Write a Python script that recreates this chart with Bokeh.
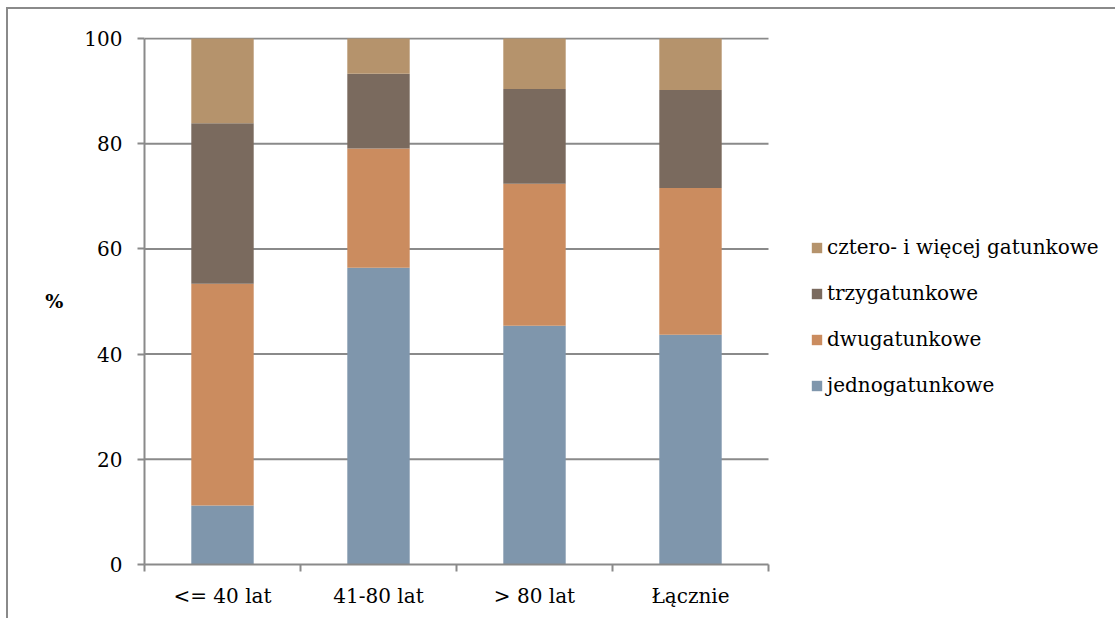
import numpy as np
from bokeh.plotting import figure
from bokeh.models import (FixedTicker, Legend, LegendItem, Range1d)
from bokeh.embed import file_html
from bokeh.resources import INLINE

# Age groups of stands and share (%) of stands by number of tree species
groups = ["<= 40 lat", "41-80 lat", "> 80 lat", "Łącznie"]
jednogatunkowe = [11.2, 56.4, 45.4, 43.7]
dwugatunkowe = [42.2, 22.7, 27.0, 27.9]
trzygatunkowe = [30.5, 14.2, 18.0, 18.6]
cztero_i_wiecej = [16.1, 6.7, 9.6, 9.8]

series_names = ["jednogatunkowe", "dwugatunkowe", "trzygatunkowe",
                "cztero- i więcej gatunkowe"]
series_colors = ["#7f96ac", "#cb8c5f", "#7a6a5e", "#b5936c"]

y_ticks = [0, 20, 40, 60, 80, 100]

FONT = "DejaVu Serif"
GRID = "#8a8a8a"

n = len(groups)
x = np.arange(n) + 0.5
data = {
    "x": x,
    "jednogatunkowe": jednogatunkowe,
    "dwugatunkowe": dwugatunkowe,
    "trzygatunkowe": trzygatunkowe,
    "cztero- i więcej gatunkowe": cztero_i_wiecej,
}

# The plotting frame runs to the right edge so the legend can sit in it;
# each group slot is 156 px wide, the rest of the frame holds the legend.
W, H = 1109, 611
LEFT, TOP, BOTTOM = 136, 28, 56
frame_w = W - LEFT
slot_px = 156.0
x_end = frame_w / slot_px

p = figure(width=W, height=H, output_backend="svg", toolbar_location=None,
           x_range=Range1d(0, x_end), y_range=Range1d(0, 100.2),
           min_border_left=LEFT, min_border_right=0,
           min_border_top=TOP, min_border_bottom=BOTTOM)
p.margin = (7, 0, 0, 6)
p.styles = {"border-top": "2px solid #8a8a8a", "border-left": "2px solid #8a8a8a"}
p.outline_line_color = None
p.background_fill_color = "white"
p.border_fill_color = "white"

# horizontal grid lines only across the group slots
p.xgrid.grid_line_color = None
p.ygrid.grid_line_color = None
p.segment(x0=[0] * (len(y_ticks) - 1), x1=[n] * (len(y_ticks) - 1),
          y0=y_ticks[1:], y1=y_ticks[1:], line_color=GRID, line_width=2)

renderers = p.vbar_stack(series_names, x="x", width=0.4, source=data,
                         color=series_colors, line_color=None)

# x axis: ticks at group boundaries, labels at group centres
p.xaxis.bounds = (0, n)
p.xaxis.ticker = FixedTicker(ticks=list(x), minor_ticks=list(range(n + 1)))
p.xaxis.major_label_overrides = {float(v): g for v, g in zip(x, groups)}
p.xaxis.major_tick_out = 0
p.xaxis.major_tick_in = 0
p.xaxis.minor_tick_out = 7
p.xaxis.minor_tick_in = 0
p.xaxis.minor_tick_line_color = GRID
p.xaxis.minor_tick_line_width = 2
p.xaxis.axis_line_color = GRID
p.xaxis.axis_line_width = 2
p.xaxis.major_label_standoff = 12
p.xaxis.major_label_text_font = FONT
p.xaxis.major_label_text_font_size = "20px"
p.xaxis.major_label_text_color = "black"

# y axis
p.yaxis.bounds = (0, 100)
p.yaxis.ticker = FixedTicker(ticks=y_ticks)
p.yaxis.minor_tick_line_color = None
p.yaxis.major_tick_out = 7
p.yaxis.major_tick_in = 0
p.yaxis.major_tick_line_color = GRID
p.yaxis.major_tick_line_width = 2
p.yaxis.axis_line_color = GRID
p.yaxis.axis_line_width = 2
p.yaxis.major_label_standoff = 15
p.yaxis.major_label_text_font = FONT
p.yaxis.major_label_text_font_size = "20px"
p.yaxis.major_label_text_color = "black"
p.yaxis.axis_label = "%"
p.yaxis.axis_label_orientation = "horizontal"
p.yaxis.axis_label_text_font = FONT
p.yaxis.axis_label_text_font_style = "bold"
p.yaxis.axis_label_text_font_size = "19px"
p.yaxis.axis_label_text_color = "black"
p.yaxis.axis_label_standoff = 18

items = [LegendItem(label=s, renderers=[r]) for s, r in zip(series_names, renderers)]
legend = Legend(items=list(reversed(items)), location=(666, 167),
                orientation="vertical", glyph_width=13, glyph_height=13,
                label_standoff=4, label_height=20, spacing=22, padding=0, margin=0,
                border_line_color=None, background_fill_alpha=0,
                label_text_font=FONT, label_text_font_size="20px",
                label_text_color="black")
p.add_layout(legend, "center")

open("out.html", "w").write(file_html(p, INLINE))
